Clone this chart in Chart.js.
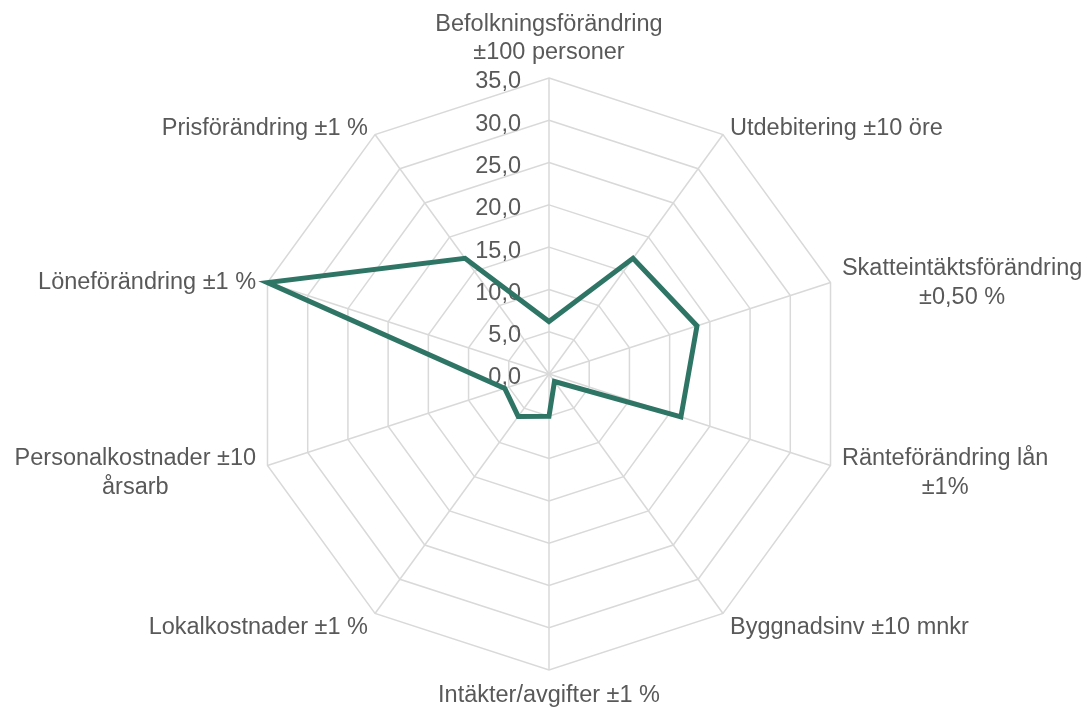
<!DOCTYPE html>
<html>
<head>
<meta charset="utf-8">
<script src="https://cdn.jsdelivr.net/npm/chart.js@4.4.1/dist/chart.umd.min.js"></script>
<style>
    html, body { margin: 0; padding: 0; background: #ffffff; }
    #wrap { width: 1089px; height: 709px; position: relative; }
</style>
</head>
<body>
<div id="wrap"><canvas id="radarChart"></canvas></div>
<script>
// Axlar, medurs från toppen
const categories = [
    ['Befolkningsförändring', '±100 personer'],
    ['Utdebitering ±10 öre'],
    ['Skatteintäktsförändring', '±0,50 %'],
    ['Ränteförändring lån', '±1%'],
    ['Byggnadsinv ±10 mnkr'],
    ['Intäkter/avgifter ±1 %'],
    ['Lokalkostnader ±1 %'],
    ['Personalkostnader ±10', 'årsarb'],
    ['Löneförändring ±1 %'],
    ['Prisförändring ±1 %']
];
const seriesValues = [6.2, 16.9, 18.4, 16.4, 1.1, 5.0, 6.2, 5.5, 35.0, 16.9];
const tickValues = [0, 5, 10, 15, 20, 25, 30, 35];
const tickLabels = ['0,0', '5,0', '10,0', '15,0', '20,0', '25,0', '30,0', '35,0'];

const FONT = '23.5px "Liberation Sans", Arial, sans-serif';
const TEXT_COLOR = '#595959';
const LINE_H = 28.5;
const NUDGE = 4; // textens mittlinje ligger lite högt i canvas

// Egna etiketter: tick-värden till vänster om axeln och axelnamn runt om
const labelPlugin = {
    id: 'radarLabels',
    beforeDatasetsDraw(chart) {
        const scale = chart.scales.r;
        const ctx = chart.ctx;
        ctx.save();
        ctx.font = FONT;
        ctx.fillStyle = TEXT_COLOR;

        // tick-etiketter
        ctx.textAlign = 'right';
        ctx.textBaseline = 'middle';
        tickValues.forEach((v, i) => {
            const y = scale.yCenter - scale.getDistanceFromCenterForValue(v);
            ctx.fillText(tickLabels[i], scale.xCenter - 28, y + NUDGE);
        });

        // axelnamn
        ctx.textAlign = 'center';
        const n = categories.length;
        categories.forEach((lines, i) => {
            const p = scale.getPointPosition(i, scale.drawingArea + 12);
            const deg = Math.round(i * 360 / n) % 360;
            const w = Math.max(...lines.map(l => ctx.measureText(l).width));
            let cx = p.x;
            let y0;
            if (deg === 0) {
                y0 = p.y - 13 - (lines.length - 1) * LINE_H;
            } else if (deg === 180) {
                y0 = p.y + 10 + NUDGE;
            } else {
                cx = deg < 180 ? p.x + w / 2 : p.x - w / 2;
                y0 = p.y - (lines.length - 1) * LINE_H / 2 + NUDGE;
            }
            lines.forEach((l, k) => ctx.fillText(l, cx, y0 + k * LINE_H));
        });
        ctx.restore();
    }
};

document.addEventListener('DOMContentLoaded', function () {
    const ctx = document.getElementById('radarChart').getContext('2d');
    new Chart(ctx, {
        type: 'radar',
        data: {
            labels: categories,
            datasets: [{
                data: seriesValues,
                borderColor: 'rgb(46, 117, 102)',
                backgroundColor: 'rgba(0, 0, 0, 0)',
                borderWidth: 5,
                borderJoinStyle: 'miter',
                fill: false,
                pointRadius: 0,
                pointHoverRadius: 0,
                tension: 0
            }]
        },
        options: {
            responsive: true,
            maintainAspectRatio: false,
            animation: false,
            layout: {
                padding: { top: 78, bottom: 39, left: 9, right: 0 }
            },
            plugins: {
                legend: { display: false },
                tooltip: { enabled: false }
            },
            scales: {
                r: {
                    min: 0,
                    max: 35,
                    beginAtZero: true,
                    ticks: { stepSize: 5, display: false },
                    pointLabels: { display: false },
                    grid: { color: '#d9d9d9', lineWidth: 1.5 },
                    angleLines: { color: '#d9d9d9', lineWidth: 1.5 }
                }
            }
        },
        plugins: [labelPlugin]
    });
});
</script>
</body>
</html>
